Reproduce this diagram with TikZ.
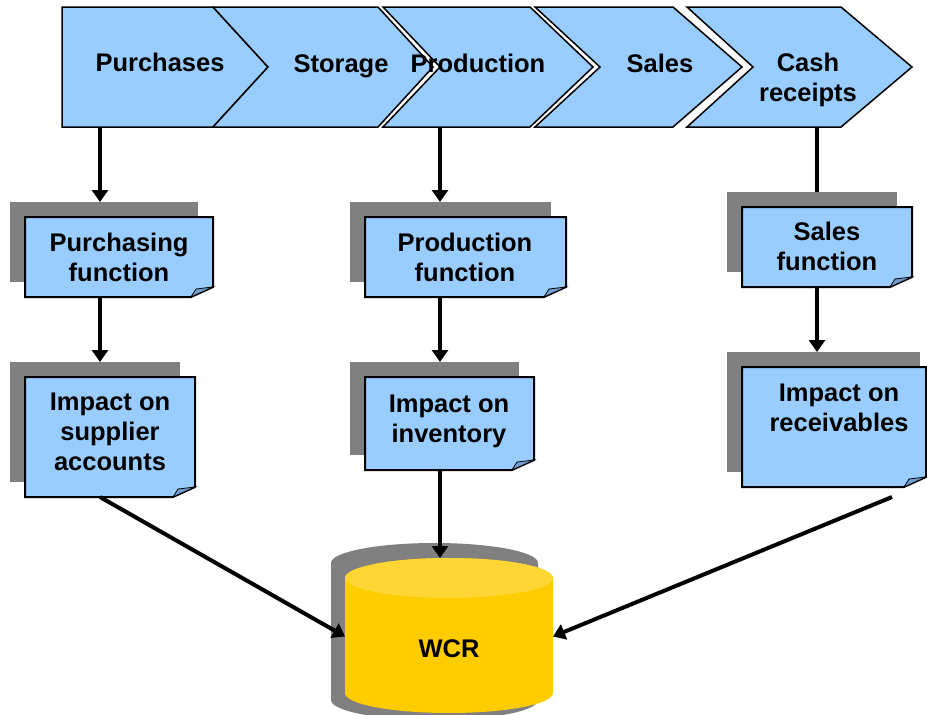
\documentclass[tikz,border=0pt]{standalone}
\usepackage{fontspec}
\setmainfont{Liberation Sans}
\usetikzlibrary{arrows.meta,calc}
\definecolor{boxblue}{HTML}{99CCFF}
\definecolor{foldblue}{HTML}{6F9FD0}
\definecolor{shgray}{HTML}{808080}
\definecolor{cylyel}{HTML}{FFCC00}
\definecolor{cyltop}{HTML}{FFD633}
\tikzset{
  chev/.style={fill=boxblue, draw=black, line width=1.5pt, line join=miter},
  area/.style={inner sep=0pt, outer sep=0pt},
  shadowbox/.style={inner sep=0pt, outer sep=0pt, fill=shgray},
  boxline/.style={fill=boxblue, draw=black, line width=2pt},
  foldline/.style={fill=foldblue, draw=black, line width=0.8pt},
  lbl/.style={font=\fontsize{25.5}{30}\selectfont\bfseries, align=center, inner sep=0pt, anchor=base},
  conn/.style={line width=4pt},
  arr/.style={line width=4pt, -{Triangle[length=12pt,width=16pt]}}
}
\newcommand{\docbox}[5]{%
  \pgfmathsetmacro{\dbw}{#4-#2}\pgfmathsetmacro{\dbh}{#5-#3}%
  \pgfmathsetmacro{\dbx}{(#2+#4)/2}\pgfmathsetmacro{\dby}{(#3+#5)/2}%
  \node[shadowbox, minimum width=\dbw pt, minimum height=\dbh pt] (#1-s) at (\dbx-15,\dby-15) {};
  \node[area, minimum width=\dbw pt, minimum height=\dbh pt] (#1) at (\dbx,\dby) {};
  \filldraw[boxline] (#1.north west) -- (#1.north east) -- ([yshift=10pt]#1.south east) -- ([xshift=-22pt]#1.south east) -- (#1.south west) -- cycle;
  \filldraw[foldline] ([xshift=-22pt]#1.south east) -- ([yshift=10pt]#1.south east) -- ([xshift=-17pt,yshift=8pt]#1.south east) -- cycle;
}
\begin{document}
\begin{tikzpicture}[x=1pt,y=-1pt]
\useasboundingbox (0,0) rectangle (927,715);
\coordinate (colA) at (100,0);
\coordinate (colB) at (440,0);
\coordinate (colC) at (817,0);
\coordinate (colD) at (100,0);
% chevrons
\path[chev] (62,7) -- (213,7) -- (268,67) -- (213,127) -- (62,127) -- cycle;
\path[chev] (213,7) -- (378,7) -- (433,67) -- (378,127) -- (213,127) -- (268,67) -- cycle;
\path[chev] (383,7) -- (530,7) -- (593,67) -- (530,127) -- (383,127) -- (440,67) -- cycle;
\path[chev] (535,7) -- (673,7) -- (742,67) -- (673,127) -- (535,127) -- (600,67) -- cycle;
\path[chev] (687,7) -- (841,7) -- (912,67) -- (841,127) -- (687,127) -- (753,67) -- cycle;
\node[area, minimum width=206pt, minimum height=120pt] (c1) at (165,67) {};
\node[area, minimum width=220pt, minimum height=120pt] (c2) at (323,67) {};
\node[area, minimum width=210pt, minimum height=120pt] (c3) at (488,67) {};
\node[area, minimum width=207pt, minimum height=120pt] (c4) at (638,67) {};
\node[area, minimum width=225pt, minimum height=120pt] (c5) at (799,67) {};
\node[lbl] (t1) at (160,71) {Purchases};
\node[lbl] (t2) at (341,72) {Storage};
\node[lbl] (t3) at (478,72) {Production};
\node[lbl] (t4) at (660,72) {Sales};
\node[lbl] (t5) at (808,101) {Cash\\receipts};
% cash line under the shadow
\draw[conn] (c5.south -| colC) -- (200,195 -| colC);
% boxes
\docbox{pf}{25}{217}{213}{297}
\docbox{sa}{25}{377}{195}{497}
\docbox{prf}{365}{217}{566}{297}
\docbox{inv}{365}{377}{534}{470}
\docbox{sf}{742}{207}{912}{287}
\fill[shgray] (727,352) rectangle (920,367);
\docbox{rec}{742}{367}{926}{487}
\node[lbl] at (119,281) {Purchasing\\function};
\node[lbl] at (110,470) {Impact on\\supplier\\accounts};
\node[lbl] at (465,281) {Production\\function};
\node[lbl] at (449,442) {Impact on\\inventory};
\node[lbl] at (827,270) {Sales\\function};
\node[lbl] at (839,431) {Impact on\\receivables};
% cylinder
\fill[shgray] (331,563) -- (331,700) arc[start angle=180,end angle=360,x radius=103.5pt,y radius=20pt] -- (538,563) arc[start angle=0,end angle=180,x radius=103.5pt,y radius=20pt] -- cycle;
\fill[cylyel] (345,578) -- (345,693) arc[start angle=180,end angle=360,x radius=104pt,y radius=20pt] -- (553,578) arc[start angle=0,end angle=180,x radius=104pt,y radius=20pt] -- cycle;
\fill[cyltop] (449,578) ellipse[x radius=104pt, y radius=20pt];
\node[area, minimum width=208pt, minimum height=157pt] (wcr) at (449,636.5) {};
\node[lbl] at (449,657) {WCR};
% connectors
\draw[arr] (c1.south -| colA) -- (pf-s.north -| colA);
\draw[arr] (c3.south -| colB) -- (prf-s.north -| colB);
\draw[arr] (pf.south -| colA) -- (sa-s.north -| colA);
\draw[arr] (prf.south -| colB) -- (inv-s.north -| colB);
\draw[arr] (sf.south -| colC) -- (rec-s.north -| colC);
\draw[arr] (sa.south -| colD) -- (wcr.west);
\draw[arr] (inv.south -| colB) -- (wcr.north -| colB);
\draw[arr] ([xshift=58pt,yshift=-10pt]rec.south) -- (wcr.east);
\end{tikzpicture}
\end{document}
